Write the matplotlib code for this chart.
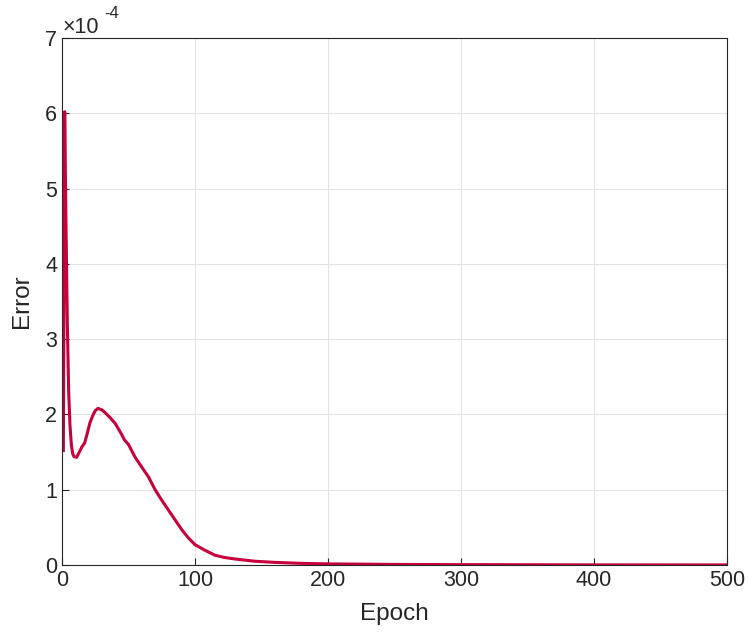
import numpy as np
import matplotlib.pyplot as plt

plt.rcParams['font.family'] = ['Liberation Sans', 'DejaVu Sans']

# training error (units of 1e-4)
epoch = [1, 2, 3, 4, 5, 6, 7, 8, 9, 11, 13, 15, 17, 19, 21, 23, 25, 27, 30, 32,
         36, 40, 44, 47, 50, 55, 60, 65, 70, 75, 80, 85, 90, 95, 100, 107, 115,
         122, 130, 145, 160, 180, 200, 250, 300, 400, 500]
err = [1.52, 6.02, 4.5, 3.2, 2.3, 1.85, 1.6, 1.48, 1.44, 1.43, 1.5, 1.57, 1.62,
       1.75, 1.89, 1.98, 2.05, 2.08, 2.06, 2.03, 1.96, 1.88, 1.76, 1.66, 1.6,
       1.43, 1.3, 1.17, 1.0, 0.86, 0.73, 0.6, 0.47, 0.36, 0.27, 0.2, 0.13, 0.1,
       0.08, 0.05, 0.035, 0.022, 0.015, 0.008, 0.005, 0.002, 0.001]
err = np.array(err) * 1e-4

fig = plt.figure(figsize=(7.5, 6.32), dpi=100)
ax = fig.add_axes([0.0827, 0.106, 0.8866, 0.834])
ax.plot(epoch, err, color='#C8003C', lw=2.2)

ax.set_xlim(0, 500)
ax.set_ylim(0, 7e-4)
ax.set_xticks(np.arange(0, 501, 100))
ax.set_yticks(np.arange(0, 8) * 1e-4)
ax.set_yticklabels([str(i) for i in range(8)])
ax.tick_params(direction='in', labelsize=15.5, colors='#262626', length=5)
ax.grid(True, color='#e3e3e3', lw=0.8)
for s in ax.spines.values():
    s.set_color('#262626')
ax.set_xlabel('Epoch', fontsize=17.5, color='#262626', labelpad=9)
ax.set_ylabel('Error', fontsize=17.5, color='#262626', labelpad=9)
ax.text(0.0, 1.0095, '\u00d710', transform=ax.transAxes, fontsize=15.5,
        color='#262626', va='baseline', ha='left')
ax.text(0.064, 1.038, '-4', transform=ax.transAxes, fontsize=12,
        color='#262626', va='baseline', ha='left')

fig.savefig('out.png')
